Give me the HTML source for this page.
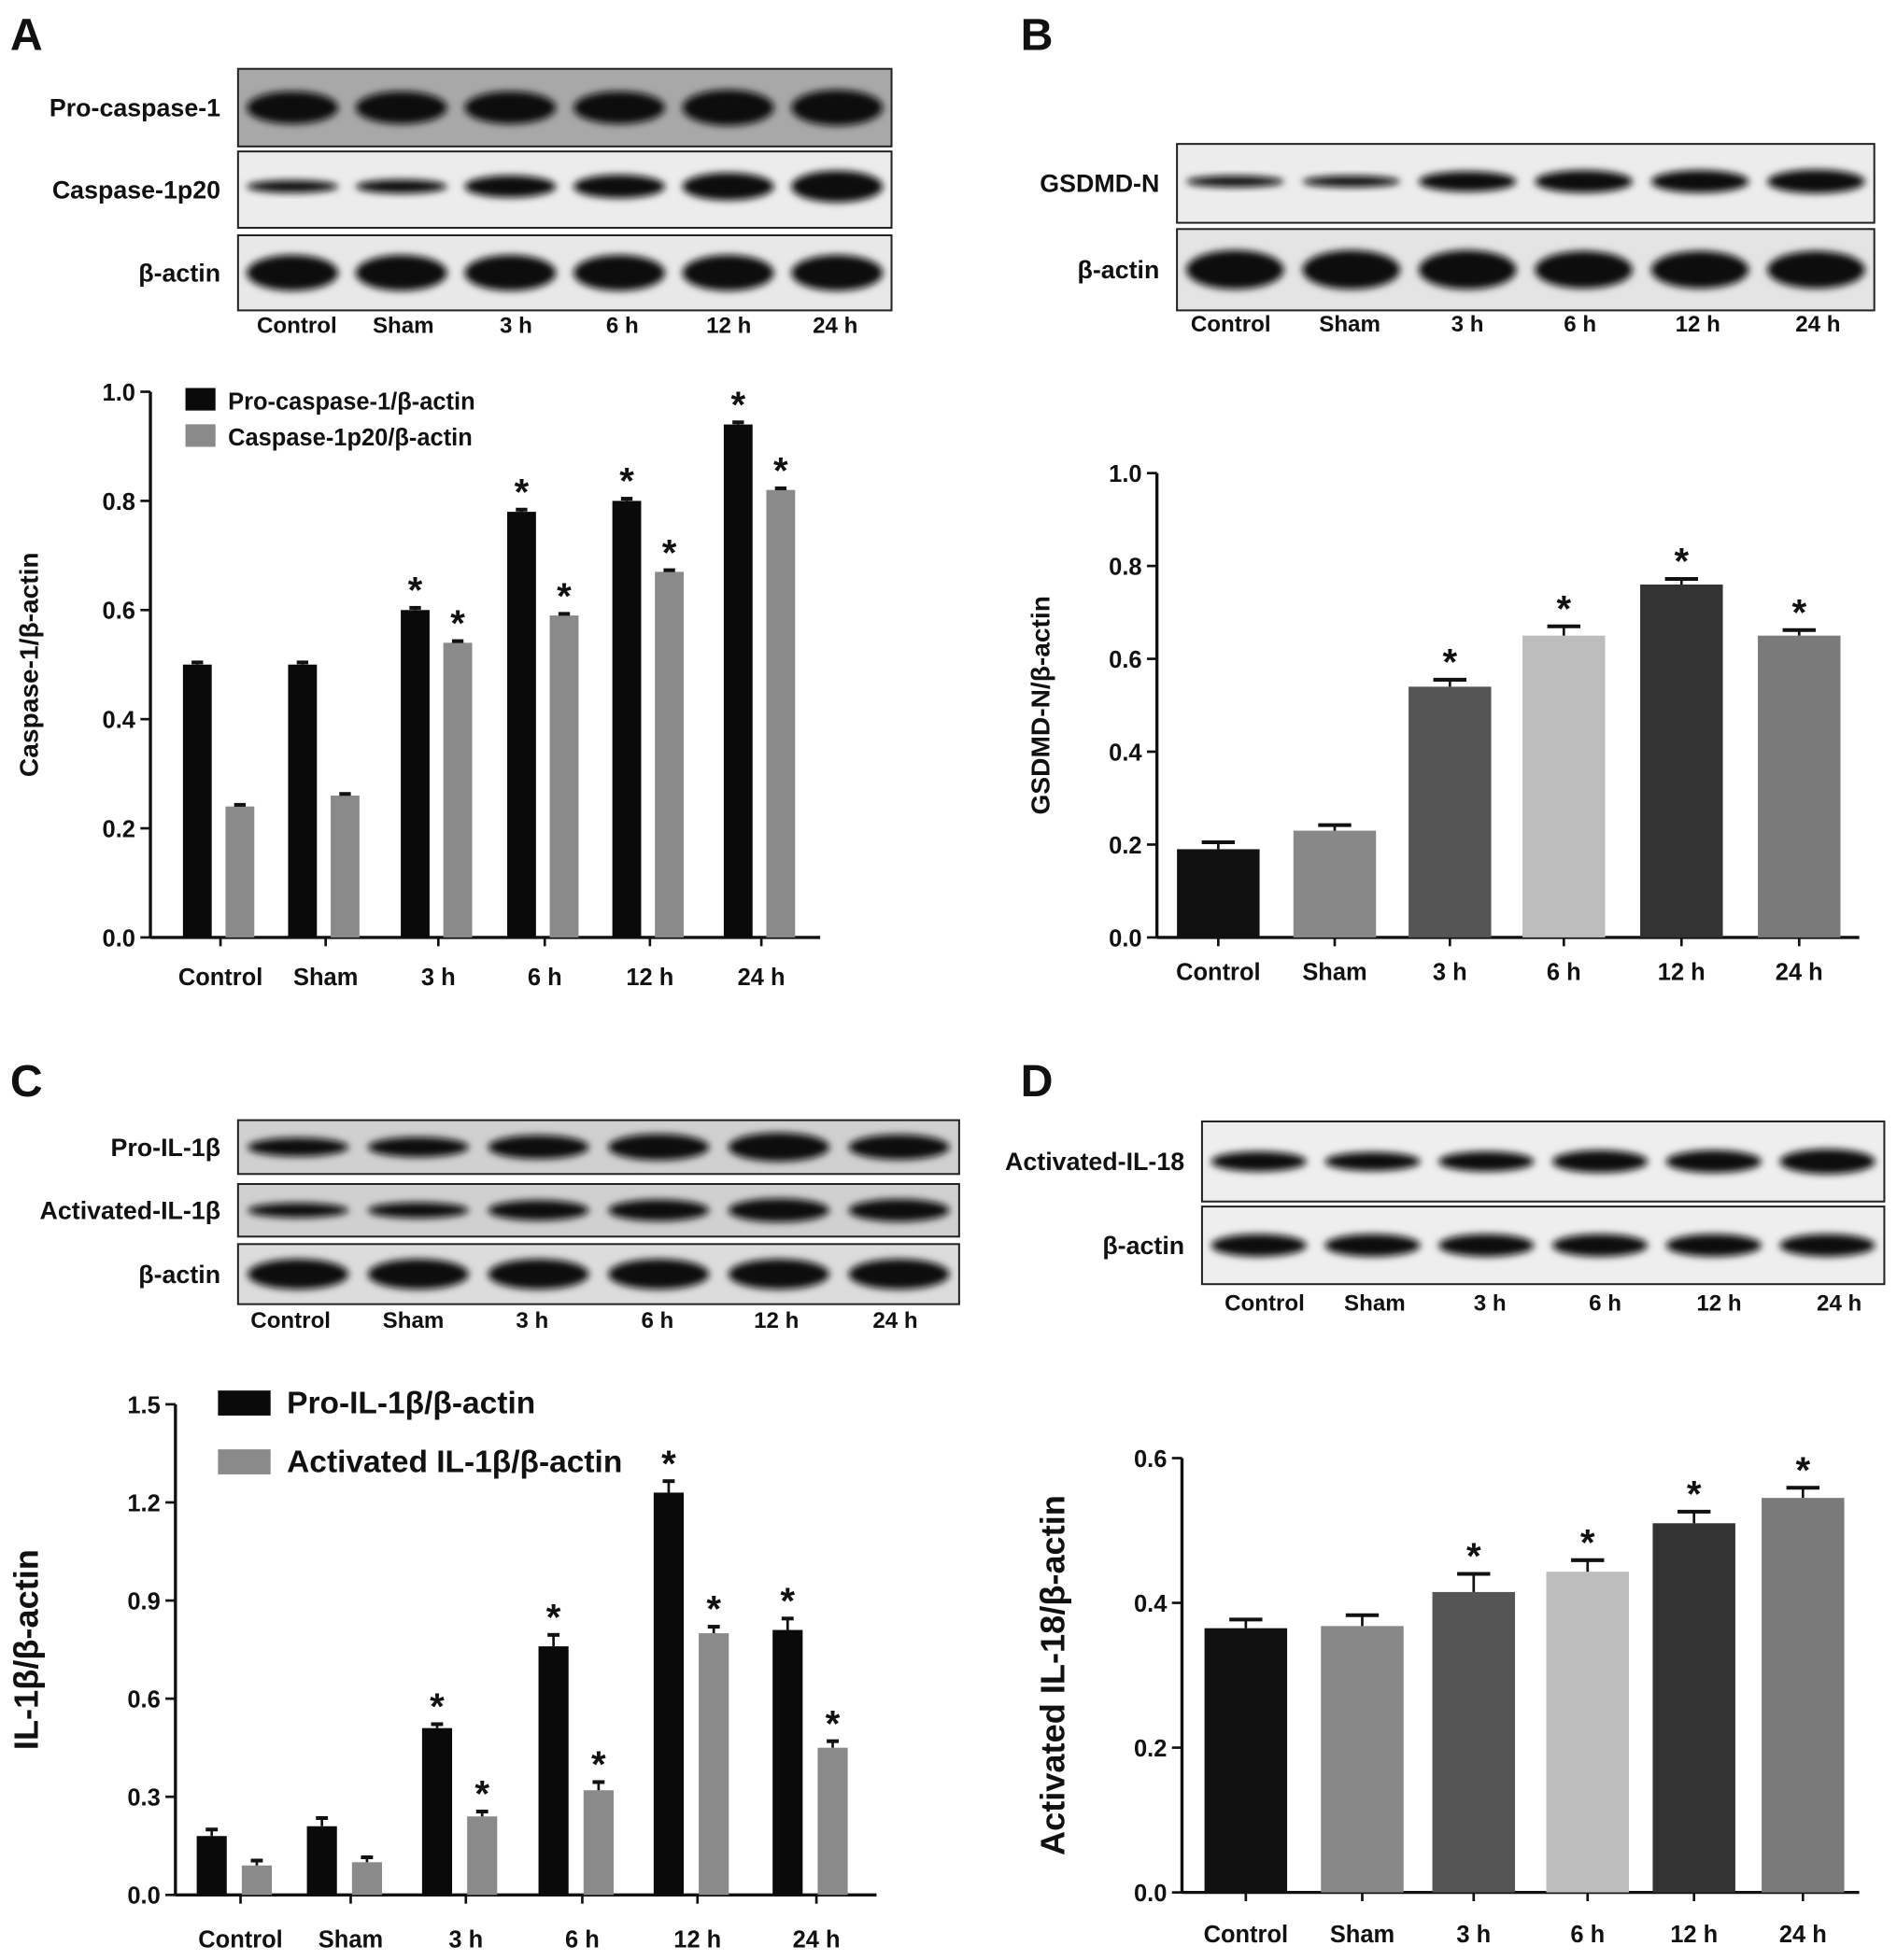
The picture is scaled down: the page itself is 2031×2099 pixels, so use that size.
<!DOCTYPE html>
<html><head><meta charset="utf-8"><style>
html,body{margin:0;padding:0;background:#fff}
svg{display:block}
text{font-family:"Liberation Sans",sans-serif;font-weight:bold;fill:#111}
</style></head><body>
<svg id="fig" width="2031" height="2099" viewBox="0 0 1515 1566" xmlns="http://www.w3.org/2000/svg">
<defs>
<filter id="blur" x="-20%" y="-50%" width="140%" height="200%"><feGaussianBlur stdDeviation="3"/></filter>
</defs>
<g id="root"></g>
</svg>
<script>
const NS='http://www.w3.org/2000/svg';
const root=document.getElementById('root');
function el(tag,attrs,parent,txt){const e=document.createElementNS(NS,tag);for(const k in attrs)e.setAttribute(k,attrs[k]);if(txt!==undefined)e.textContent=txt;(parent||root).appendChild(e);return e;}

// ---------- data ----------
const groups=['Control','Sham','3 h','6 h','12 h','24 h'];
const aPro=[0.50,0.50,0.60,0.78,0.80,0.94];
const aP20=[0.24,0.26,0.54,0.59,0.67,0.82];
const aProErr=[0.004,0.004,0.004,0.004,0.004,0.004];
const aP20Err=[0.003,0.003,0.003,0.003,0.003,0.003];
const aSig=[false,false,true,true,true,true];
const aTicks=[0,0.2,0.4,0.6,0.8,1.0];
const bVals=[0.19,0.23,0.54,0.65,0.76,0.65];
const bErr=[0.015,0.012,0.015,0.02,0.012,0.012];
const bTicks=[0,0.2,0.4,0.6,0.8,1.0];
const cPro=[0.18,0.21,0.51,0.76,1.23,0.81];
const cProErr=[0.02,0.025,0.012,0.035,0.035,0.035];
const cAct=[0.09,0.10,0.24,0.32,0.80,0.45];
const cActErr=[0.015,0.015,0.015,0.025,0.02,0.02];
const cTicks=[0,0.3,0.6,0.9,1.2,1.5];
const dVals=[0.365,0.368,0.415,0.443,0.51,0.545];
const dErr=[0.012,0.015,0.025,0.016,0.016,0.014];
const dTicks=[0,0.2,0.4,0.6];
const sig=[false,false,true,true,true,true];
const bColors=['#111','#888','#555','#bdbdbd','#333','#7a7a7a'];

// ---------- panel letters ----------
[['A',8,40],['B',815,40],['C',8,876],['D',815,876]].forEach(p=>{
  const t=el('text',{x:p[1],y:p[2],'font-size':36},root,p[0]);
  
  
});

// ---------- blots ----------
function blot(name,x0,x1,rows,lanes,laneY,fs){
  const g=el('g',{});
  
  
  rows.forEach(r=>{
    const rg=el('g',{},g);
    
    
    el('rect',{x:x0,y:r.y0,width:x1-x0,height:r.y1-r.y0,fill:r.bg||'#e6e6e6',stroke:'#222','stroke-width':1.5},rg);
    const bw=(x1-x0)/6;
    r.int.forEach((v,i)=>{
      const cx=x0+bw*(i+0.5)+(r.dx||0);
      const cy=r.cy!==undefined?r.cy:(r.y0+r.y1)/2;
      el('ellipse',{cx:cx,cy:cy,rx:bw*0.42,ry:r.h*v,fill:'#0a0a0a',filter:'url(#blur)'},rg);
    });
    const t=el('text',{x:x0-14,y:(r.y0+r.y1)/2+7,'text-anchor':'end','font-size':fs},rg,r.label);
    
    
  });
  lanes.forEach((lx,i)=>{
    const t=el('text',{x:lx,y:laneY,'text-anchor':'middle','font-size':18},g,groups[i]);
    
    
  });
}
blot('blot-a',190,712,[
 {y0:55,y1:117,label:'Pro-caspase-1',int:[1,1,1,1,1.1,1.1],h:13,bg:'#a8a8a8'},
 {y0:121,y1:182,label:'Caspase-1p20',int:[0.45,0.5,0.8,0.85,1,1.15],h:11,cy:149,bg:'#ececec'},
 {y0:188,y1:248,label:'β-actin',int:[1.1,1.1,1.1,1.1,1.1,1.1],h:13,bg:'#e8e8e8'}
],[237,322,412,497,582,667],266,20);
blot('blot-b',940,1497,[
 {y0:115,y1:178,label:'GSDMD-N',int:[0.5,0.5,0.9,1,1,1.05],h:9,cy:145,bg:'#ececec'},
 {y0:183,y1:248,label:'β-actin',int:[1.2,1.2,1.2,1.15,1.15,1.15],h:13,bg:'#e4e4e4'}
],[983,1078,1172,1262,1356,1452],265,20);
blot('blot-c',190,766,[
 {y0:895,y1:938,label:'Pro-IL-1β',int:[0.75,0.8,0.95,1.05,1.15,1.0],h:10,bg:'#d0d0d0'},
 {y0:946,y1:988,label:'Activated-IL-1β',int:[0.65,0.7,0.9,0.95,1.05,1.0],h:9,bg:'#d0d0d0'},
 {y0:994,y1:1042,label:'β-actin',int:[1.1,1.1,1.1,1.1,1.1,1.1],h:11,bg:'#dcdcdc'}
],[232,330,425,525,620,715],1061,20);
blot('blot-d',960,1505,[
 {y0:896,y1:960,label:'Activated-IL-18',int:[0.8,0.75,0.8,0.9,0.9,1],h:10,bg:'#eeeeee'},
 {y0:964,y1:1026,label:'β-actin',int:[0.9,0.9,0.9,0.9,0.9,0.9],h:10,bg:'#eeeeee'}
],[1010,1098,1190,1282,1373,1469],1047,20);

// ---------- chart helper ----------
function axes(name,ax,yTop,yBot,xEnd,ticks,max,ytitle,titleX,tfs,centers,labelY){
  const g=el('g',{});
  
  
  const y=v=>yBot-(v/max)*(yBot-yTop);
  el('line',{x1:ax,y1:yTop,x2:ax,y2:yBot,stroke:'#111','stroke-width':2.5},g);
  el('line',{x1:ax,y1:yBot,x2:xEnd,y2:yBot,stroke:'#111','stroke-width':2.5},g);
  ticks.forEach(t=>{
    el('line',{x1:ax-8,y1:y(t),x2:ax,y2:y(t),stroke:'#111','stroke-width':2},g);
    const tt=el('text',{x:ax-12,y:y(t)+7,'text-anchor':'end','font-size':19},g,t.toFixed(1));
    
    
  });
  centers.forEach((c,i)=>{
    el('line',{x1:c,y1:yBot,x2:c,y2:yBot+7,stroke:'#111','stroke-width':2},g);
    const tt=el('text',{x:c,y:labelY,'text-anchor':'middle','font-size':19},g,groups[i]);
    
    
  });
  const cy=(yTop+yBot)/2;
  const yt=el('text',{x:titleX,y:cy,'text-anchor':'middle','font-size':tfs,transform:`rotate(-90 ${titleX} ${cy})`},g,ytitle);
  
  
  return {g,y};
}
function bar(g,y,x,w,v,e,fill,star,name){
  const r=el('rect',{x:x,y:y(v),width:w,height:y(0)-y(v),fill:fill},g);
  
  
  if(e>0){
    el('line',{x1:x+w/2,y1:y(v),x2:x+w/2,y2:y(v+e),stroke:'#111','stroke-width':2},g);
    el('line',{x1:x+w*0.3,y1:y(v+e),x2:x+w*0.7,y2:y(v+e),stroke:'#111','stroke-width':3},g);
  }
  if(star){
    const s=el('text',{x:x+w/2,y:y(v+e)-4,'text-anchor':'middle','font-size':30},g,'*');
    
    
  }
}

// Chart A
const aC=[176,260,350,435,519,608];
const A=axes('chart-a',120,313,749,655,aTicks,1.0,'Caspase-1/β-actin',30,21,aC,787);
aC.forEach((c,i)=>{
  bar(A.g,A.y,c-30,23,aPro[i],aProErr[i],'#0a0a0a',aSig[i],'bar-pro-caspase-1');
  bar(A.g,A.y,c+4,23,aP20[i],aP20Err[i],'#8a8a8a',aSig[i],'bar-caspase-1p20');
});
[['#0a0a0a','Pro-caspase-1/β-actin',321],['#8a8a8a','Caspase-1p20/β-actin',350]].forEach(l=>{
  const lg=el('g',{},A.g);
  
  
  el('rect',{x:148,y:l[2]-11,width:24,height:18,fill:l[0]},lg);
  el('text',{x:182,y:l[2]+6,'font-size':19},lg,l[1]);
});

// Chart B
const bC=[973,1066,1158,1249,1343,1437];
const B=axes('chart-b',924,378,749,1485,bTicks,1.0,'GSDMD-N/β-actin',838,21,bC,783);
bC.forEach((c,i)=>bar(B.g,B.y,c-33,66,bVals[i],bErr[i],bColors[i],sig[i],'bar-gsdmd-n'));

// Chart C
const cC=[192,280,372,465,557,652];
const Cc=axes('chart-c',140,1122,1514,700,cTicks,1.5,'IL-1β/β-actin',30,27,cC,1556);
cC.forEach((c,i)=>{
  bar(Cc.g,Cc.y,c-35,24,cPro[i],cProErr[i],'#0a0a0a',sig[i],'bar-pro-il-1b');
  bar(Cc.g,Cc.y,c+1,24,cAct[i],cActErr[i],'#8a8a8a',sig[i],'bar-activated-il-1b');
});
[['#0a0a0a','Pro-IL-1β/β-actin',1121],['#8a8a8a','Activated IL-1β/β-actin',1168]].forEach(l=>{
  const lg=el('g',{},Cc.g);
  
  
  el('rect',{x:174,y:l[2]-10,width:42,height:20,fill:l[0]},lg);
  el('text',{x:229,y:l[2]+8,'font-size':25},lg,l[1]);
});

// Chart D
const dC=[995,1088,1177,1268,1353,1440];
const D=axes('chart-d',944,1165,1512,1485,dTicks,0.6,'Activated IL-18/β-actin',850,27,dC,1552);
dC.forEach((c,i)=>bar(D.g,D.y,c-33,66,dVals[i],dErr[i],bColors[i],sig[i],'bar-activated-il-18'));
</script>
</body></html>
